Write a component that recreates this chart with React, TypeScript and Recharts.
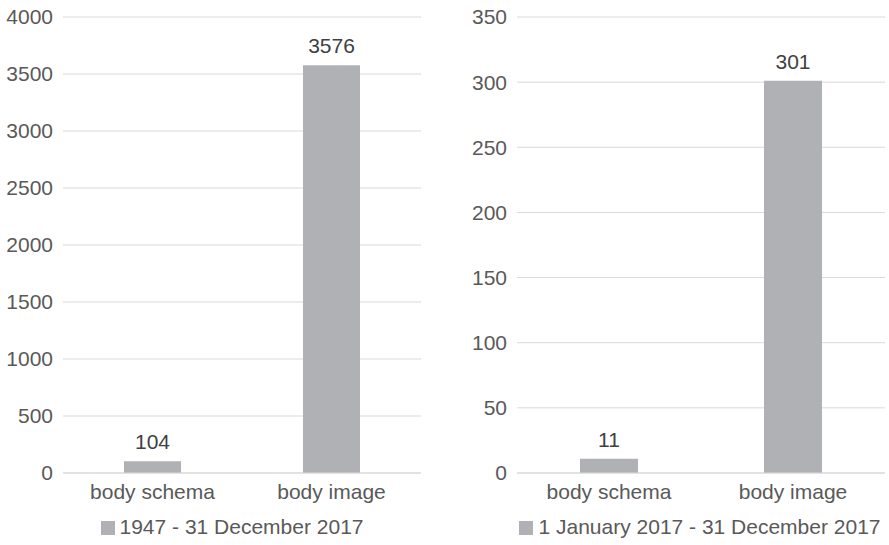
import React from 'react';
import { BarChart, Bar, XAxis, YAxis, CartesianGrid, Legend, LabelList } from 'recharts';

const categories = ['body schema', 'body image'];
const allTimeCounts = [104, 3576];
const year2017Counts = [11, 301];
const allTimeTicks = [0, 500, 1000, 1500, 2000, 2500, 3000, 3500, 4000];
const year2017Ticks = [0, 50, 100, 150, 200, 250, 300, 350];
const allTimeLabel = '1947 - 31 December 2017';
const year2017Label = '1 January 2017 - 31 December 2017';

const FONT = '"Liberation Sans", Arial, Helvetica, sans-serif';
const FONT_SIZE = 21;
const BAR = '#b0b1b4';
const GRID = '#d9d9d9';
const AXIS_TEXT = '#595959';
const VALUE_TEXT = '#404040';

const LegendBox = ({ text }: { text: string }) => (
  <div style={{ textAlign: 'center', fontFamily: FONT, fontSize: FONT_SIZE, color: AXIS_TEXT, lineHeight: '37px', height: 37 }}>
    <span style={{ display: 'inline-block', width: 14, height: 14, background: BAR, marginRight: 5, verticalAlign: '-1px' }} />
    {text}
  </div>
);

type PanelProps = {
  values: number[];
  ticks: number[];
  label: string;
  width: number;
  yWidth: number;
  right: number;
  barSize: number;
  legendLeft: number;
  legendWidth: number;
};

const Panel: React.FC<PanelProps> = ({ values, ticks, label, width, yWidth, right, barSize, legendLeft, legendWidth }) => {
  const data = categories.map((c, i) => ({ name: c, value: values[i] }));
  return (
    <BarChart width={width} height={545} data={data} margin={{ top: 17, right, left: 0, bottom: 0 }} style={{ fontFamily: FONT }}>
      <CartesianGrid vertical={false} stroke={GRID} />
      <XAxis
        dataKey="name"
        height={35}
        tickLine={false}
        axisLine={{ stroke: GRID }}
        tickMargin={5}
        tick={{ fill: AXIS_TEXT, fontSize: FONT_SIZE }}
      />
      <YAxis
        width={yWidth}
        domain={[ticks[0], ticks[ticks.length - 1]]}
        ticks={ticks}
        axisLine={false}
        tickLine={false}
        tickMargin={4}
        tick={{ fill: AXIS_TEXT, fontSize: FONT_SIZE }}
        interval={0}
      />
      <Legend
        verticalAlign="bottom"
        content={() => <LegendBox text={label} />}
        wrapperStyle={{ left: legendLeft, width: legendWidth }}
      />
      <Bar dataKey="value" name={label} fill={BAR} barSize={barSize} isAnimationActive={false}>
        <LabelList dataKey="value" position="top" offset={12} fill={VALUE_TEXT} fontSize={FONT_SIZE} />
      </Bar>
    </BarChart>
  );
};

export default function App() {
  return (
    <div style={{ position: 'absolute', left: 0, top: 0, width: 889, height: 545, display: 'flex', background: '#fff' }}>
      <Panel values={allTimeCounts} ticks={allTimeTicks} label={allTimeLabel} width={445} yWidth={63} right={24} barSize={57} legendLeft={20} legendWidth={424} />
      <Panel values={year2017Counts} ticks={year2017Ticks} label={year2017Label} width={444} yWidth={72} right={4} barSize={58} legendLeft={66} legendWidth={378} />
    </div>
  );
}
